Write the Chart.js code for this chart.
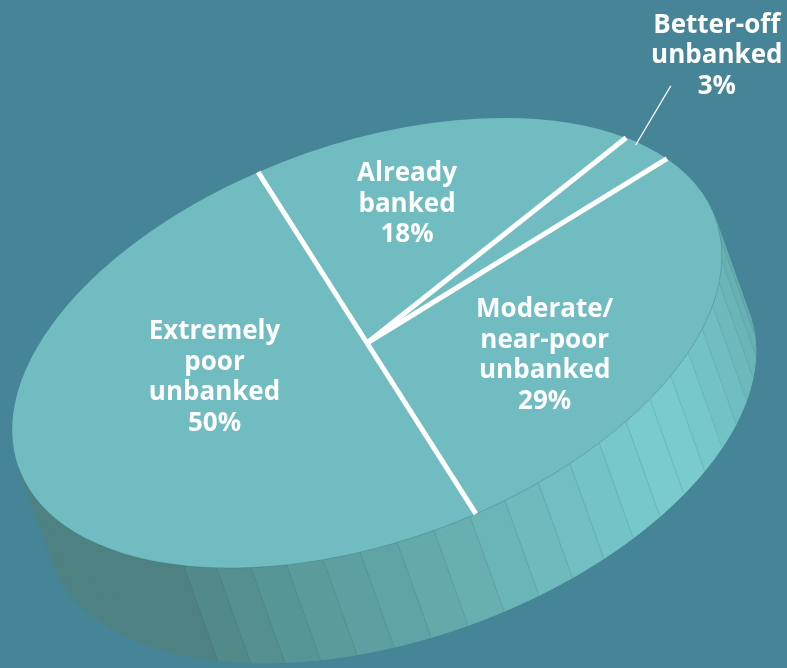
<!DOCTYPE html>
<html>
<head>
<meta charset="utf-8">
<script src="https://cdn.jsdelivr.net/npm/chart.js@4.4.1/dist/chart.umd.min.js"></script>
<style>
  html, body { margin: 0; padding: 0; background: #458597; }
  canvas { display: block; }
</style>
</head>
<body>
<canvas id="pie" width="787" height="668"></canvas>
<script>
// Segments, clockwise from the top
const segmentLabels = [
  ['Already', 'banked'],
  ['Better-off', 'unbanked'],
  ['Moderate/', 'near-poor', 'unbanked'],
  ['Extremely', 'poor', 'unbanked']
];
const segmentShares = [18, 3, 29, 50];

// Label spots: angle shift from the slice middle (deg) and radius fraction
const labelSpots = [
  { da: -4.2, r: 0.63 },
  { outside: true, da: -2.4, r: 0.99, leaderDx: 35, leaderDy: -59, textDx: 46, textDy: -53 },
  { da: 8.6, r: 0.57 },
  { da: 19.5, r: 0.43 }
];

// Tilted disc geometry
const DISC = {
  cx: 367, cy: 343,
  a: 370, b: 199,
  tilt: -19.66 * Math.PI / 180,
  depthX: 34, depthY: 95
};

const TOP_COLOR = '#70bcc0';
const LINE_HEIGHT = 30.5;
const FONT = '700 26px "Open Sans", "DejaVu Sans", sans-serif';

// Side shading by angle around the rim (deg, colour)
const SIDE_SHADES = [
  [0, '#62a8ab'], [10, '#68b1b4'], [20, '#6cb8bb'], [30, '#71c1c4'],
  [40, '#77c9cc'], [50, '#7acccf'], [62, '#75c5c8'], [75, '#6ebabc'],
  [86, '#67b0b2'], [100, '#60a3a4'], [113, '#5a999b'], [125, '#548d8e'],
  [135, '#4e8282'], [180, '#4e8282']
];

const Disc = {
  /**
   * Maps a pie angle / radius fraction onto the tilted ellipse
   */
  project(angle, frac) {
    const u = DISC.a * frac * Math.cos(angle);
    const v = DISC.b * frac * Math.sin(angle);
    const c = Math.cos(DISC.tilt), s = Math.sin(DISC.tilt);
    return { x: DISC.cx + u * c - v * s, y: DISC.cy + u * s + v * c };
  },

  hexToRgb(hex) {
    const n = parseInt(hex.slice(1), 16);
    return [(n >> 16) & 255, (n >> 8) & 255, n & 255];
  },

  shadeAt(deg) {
    for (let i = 0; i < SIDE_SHADES.length - 1; i++) {
      const [d0, c0] = SIDE_SHADES[i];
      const [d1, c1] = SIDE_SHADES[i + 1];
      if (deg >= d0 && deg <= d1) {
        const t = (deg - d0) / (d1 - d0);
        const p = this.hexToRgb(c0), q = this.hexToRgb(c1);
        const m = p.map((v, k) => Math.round(v + (q[k] - v) * t));
        return `rgb(${m[0]},${m[1]},${m[2]})`;
      }
    }
    return SIDE_SHADES[SIDE_SHADES.length - 1][1];
  },

  /**
   * Draws the faceted rim below the front half of the disc
   */
  drawSide(ctx) {
    const step = 6;
    const dx = DISC.depthX, dy = DISC.depthY;
    for (let d = 0; d < 180; d += step) {
      const a0 = d * Math.PI / 180;
      const a1 = Math.min(d + step, 180) * Math.PI / 180;
      const p0 = this.project(a0, 1);
      const col = this.shadeAt(d + step / 2);

      ctx.beginPath();
      ctx.moveTo(p0.x, p0.y);
      const sub = 6;
      for (let k = 1; k <= sub; k++) {
        const p = this.project(a0 + (a1 - a0) * k / sub, 1);
        ctx.lineTo(p.x, p.y);
      }
      for (let k = sub; k >= 0; k--) {
        const p = this.project(a0 + (a1 - a0) * k / sub, 1);
        ctx.lineTo(p.x + dx, p.y + dy);
      }
      ctx.closePath();
      ctx.fillStyle = col;
      ctx.fill();
      ctx.strokeStyle = col;
      ctx.lineWidth = 1;
      ctx.stroke();

      // faint facet edge, none on the flat dark face
      if (d > 0 && d < 135) {
        ctx.beginPath();
        ctx.moveTo(p0.x, p0.y);
        ctx.lineTo(p0.x + dx, p0.y + dy);
        ctx.strokeStyle = 'rgba(40, 100, 105, 0.22)';
        ctx.lineWidth = 0.8;
        ctx.stroke();
      }
    }
  },

  drawRimEdge(ctx) {
    ctx.beginPath();
    for (let d = 0; d <= 180; d += 2) {
      const p = this.project(d * Math.PI / 180, 1);
      if (d === 0) ctx.moveTo(p.x, p.y); else ctx.lineTo(p.x, p.y);
    }
    ctx.strokeStyle = 'rgba(50, 110, 115, 0.35)';
    ctx.lineWidth = 0.8;
    ctx.stroke();
  }
};

const tiltedPie = {
  id: 'tiltedPie',

  beforeDatasetsDraw(chart) {
    const ctx = chart.ctx;
    const arc = chart.getDatasetMeta(0).data[0];
    Disc.drawSide(ctx);

    // squash the flat pie into the tilted ellipse
    const R = arc.outerRadius;
    ctx.save();
    ctx.translate(DISC.cx, DISC.cy);
    ctx.rotate(DISC.tilt);
    ctx.scale(DISC.a / R, DISC.b / R);
    ctx.translate(-arc.x, -arc.y);
  },

  afterDatasetsDraw(chart) {
    const ctx = chart.ctx;
    ctx.restore();
    Disc.drawRimEdge(ctx);

    const arcs = chart.getDatasetMeta(0).data;
    const shares = chart.data.datasets[0].data;

    // white separators from the hub to the rim
    ctx.save();
    ctx.strokeStyle = '#ffffff';
    ctx.lineWidth = 5;
    ctx.lineCap = 'butt';
    const hub = Disc.project(0, 0);
    arcs.forEach((arc) => {
      const edge = Disc.project(arc.startAngle, 1);
      ctx.beginPath();
      ctx.moveTo(hub.x, hub.y);
      ctx.lineTo(edge.x, edge.y);
      ctx.stroke();
    });
    ctx.restore();

    // labels
    ctx.save();
    ctx.font = FONT;
    ctx.fillStyle = '#ffffff';
    ctx.textAlign = 'center';
    ctx.textBaseline = 'alphabetic';
    arcs.forEach((arc, i) => {
      const spot = labelSpots[i];
      const lines = [...chart.data.labels[i], `${shares[i]}%`];
      const midAngle = (arc.startAngle + arc.endAngle) / 2 + spot.da * Math.PI / 180;

      if (spot.outside) {
        const from = Disc.project(midAngle, spot.r);
        const to = { x: from.x + spot.leaderDx, y: from.y + spot.leaderDy };
        ctx.beginPath();
        ctx.moveTo(from.x, from.y);
        ctx.lineTo(to.x, to.y);
        ctx.strokeStyle = '#ffffff';
        ctx.lineWidth = 1.2;
        ctx.stroke();
        lines.forEach((line, k) => {
          ctx.fillText(line, to.x + spot.textDx, to.y + spot.textDy + k * LINE_HEIGHT);
        });
        return;
      }

      const at = Disc.project(midAngle, spot.r);
      const n = lines.length;
      lines.forEach((line, k) => {
        ctx.fillText(line, at.x, at.y + (k - (n - 1) / 2) * LINE_HEIGHT + 7);
      });
    });
    ctx.restore();
  }
};

new Chart(document.getElementById('pie'), {
  type: 'pie',
  data: {
    labels: segmentLabels,
    datasets: [{
      data: segmentShares,
      backgroundColor: TOP_COLOR,
      borderWidth: 0,
      hoverOffset: 0,
      clip: false
    }]
  },
  options: {
    responsive: false,
    animation: false,
    devicePixelRatio: 1,
    events: [],
    rotation: -7,
    layout: { padding: 0 },
    plugins: {
      legend: { display: false },
      tooltip: { enabled: false }
    }
  },
  plugins: [tiltedPie]
});
</script>
</body>
</html>
